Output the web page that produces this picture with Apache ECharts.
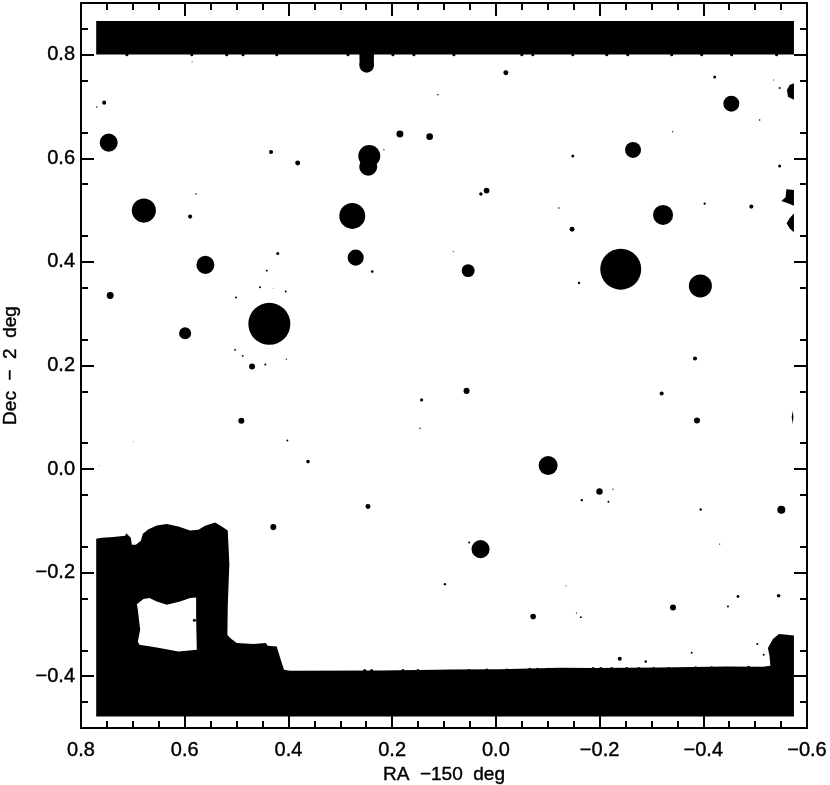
<!DOCTYPE html>
<html>
<head>
<meta charset="utf-8" />
<title>Mask map</title>
<script src="https://cdn.jsdelivr.net/npm/echarts@6/dist/echarts.min.js"></script>
<style>
html, body { margin: 0; padding: 0; background: #fff; }
#chart { width: 830px; height: 785px; }
</style>
</head>
<body>
<div id="chart"></div>
<script>
// tick values, degrees
const xTicks = [0.8, 0.6, 0.4, 0.2, 0, -0.2, -0.4, -0.6];
const yTicks = [0.8, 0.6, 0.4, 0.2, 0, -0.2, -0.4];

// the Dec readings below came out a hair high against the tick marks
const decReadingFix = -0.0015;

// masked regions, [RA, Dec] outlines
const topBar = [[0.7707, 0.8668], [-0.5748, 0.8668], [-0.5748, 0.802], [0.7707, 0.802]];
const topNeck = [[0.2632, 0.804], [0.235, 0.804], [0.2355, 0.781], [0.2627, 0.781]];
const bottomRegion = [
  [0.7707, -0.1332], [0.7597, -0.1313], [0.7374, -0.1299], [0.7148, -0.1274], [0.7129, -0.1222],
  [0.7039, -0.1313], [0.7019, -0.1448], [0.6942, -0.1448], [0.6846, -0.1371], [0.6807, -0.1236],
  [0.6699, -0.1145], [0.6538, -0.1075], [0.6345, -0.1048], [0.6121, -0.1095], [0.5896, -0.1172],
  [0.5736, -0.1158], [0.5607, -0.1081], [0.5414, -0.1017], [0.5285, -0.1095], [0.517, -0.1172],
  [0.5158, -0.1415], [0.5139, -0.1834], [0.515, -0.2091], [0.517, -0.2639], [0.5177, -0.3185],
  [0.5125, -0.3249], [0.4996, -0.3346], [0.4676, -0.3365], [0.4437, -0.3346], [0.4399, -0.3398],
  [0.4225, -0.3411], [0.4148, -0.3668], [0.4085, -0.3861], [0.3969, -0.388], [0.2235, -0.3874],
  [0.1118, -0.3861], [0.0887, -0.3855], [-0.0077, -0.3851], [-0.1233, -0.3822], [-0.1875, -0.3828],
  [-0.316, -0.3817], [-0.4445, -0.3797], [-0.515, -0.3803], [-0.5293, -0.3784], [-0.5279, -0.3604],
  [-0.5247, -0.3442], [-0.5343, -0.3268], [-0.5459, -0.3172], [-0.5748, -0.3199], [-0.5748, -0.4763],
  [0.7707, -0.4763]
];
const edgeUpper = [[-0.5748, 0.7465], [-0.5665, 0.7432], [-0.5613, 0.7336], [-0.5632, 0.7207], [-0.5748, 0.7149]];
const edgeMiddle = [[-0.5748, 0.5405], [-0.5601, 0.5419], [-0.5588, 0.5265], [-0.5505, 0.5193], [-0.5632, 0.5149], [-0.5748, 0.5102]];
const edgeLower = [[-0.5748, 0.4955], [-0.5665, 0.4859], [-0.5607, 0.4763], [-0.5665, 0.4666], [-0.5748, 0.4589]];
const edgeSliver = [[-0.5725, 0.114], [-0.5705, 0.102], [-0.5725, 0.088], [-0.5738, 0.102]];

// unmasked window inside the bottom region
const windowRegion = [
  [0.6923, -0.2593], [0.6796, -0.2496], [0.668, -0.2477], [0.6538, -0.2542], [0.6345, -0.2606],
  [0.6089, -0.2542], [0.5896, -0.2477], [0.578, -0.2465], [0.578, -0.2863], [0.5767, -0.3475],
  [0.6121, -0.3507], [0.6538, -0.343], [0.6873, -0.3378], [0.6904, -0.3314], [0.6859, -0.3089],
  [0.6904, -0.2703]
];

// star holes
const holeRa = [
  0.7466, 0.6788, 0.7553, 0.7694, 0.5896, 0.4335, 0.3821, 0.4206, 0.578, 0.5857,
  0.2491, -0.0193, 0.1118, 0.185, 0.1277, 0.2441, 0.2461, 0.2158, 0.2769, 0.2703,
  0.2383, 0.0179, 0.0289, -0.1214, 0.0823, 0.0534, -0.2408, -0.3944, -0.3224, -0.2645,
  -0.4541, -0.422, -0.5472, -0.5356, -0.5087, -0.341, -0.1484, -0.5472, -0.4027, -0.4927,
  -0.147, -0.1605, 0.5601, 0.7437, 0.5992, 0.4368, 0.4418, 0.4547, 0.4052, 0.4291,
  0.501, 0.5029, 0.4881, 0.4701, 0.4445, 0.404, 0.4908, 0.4021, 0.3622, 0.6988,
  0.7644, 0.0565, 0.1432, 0.1464, -0.1008, -0.1657, 0.2466, 0.0295, 0.0514, -0.384,
  -0.3198, -0.3879, -0.1998, -0.226, -0.2171, -0.395, -0.5505,
  -0.4316, 0.4291, 0.0983, -0.0719, -0.1349, -0.1555, -0.1638, -0.3416, -0.4669, -0.4476,
  -0.5453, -0.5042, -0.3776, -0.289, -0.2389, -0.5164, 0.5813
];
const holeDec = [
  0.6319, 0.5006, 0.7091, 0.7008, 0.489, 0.6139, 0.5927, 0.4176, 0.5328, 0.7876,
  0.7809, 0.767, 0.7245, 0.6486, 0.6434, 0.6062, 0.5855, 0.6183, 0.4903, 0.4098,
  0.3828, 0.5392, 0.5328, 0.5058, 0.4214, 0.3847, 0.3875, 0.3552, 0.4923, 0.6178,
  0.7071, 0.7587, 0.7375, 0.7529, 0.6757, 0.6531, 0.6062, 0.5869, 0.5141, 0.5083,
  0.4647, 0.361, 0.3958, 0.3365, 0.2639, 0.2819, 0.3847, 0.3527, 0.3442, 0.3508,
  0.3326, 0.2317, 0.2201, 0.1994, 0.2033, 0.2137, 0.0946, 0.0566, 0.016, 0.0541,
  0.0077, 0.1525, 0.1351, 0.0805, 0.0083, -0.0585, -0.0708, -0.1531, -0.1403, 0.2149,
  0.1473, 0.0952, -0.0419, -0.0373, -0.0618, -0.0766, -0.0772,
  -0.1434, -0.1106, -0.2207, -0.2832, -0.2239, -0.2766, -0.2844, -0.2658, -0.2446, -0.2639,
  -0.2432, -0.3365, -0.3533, -0.3701, -0.3649, -0.3571, -0.2905
];
const holeRadius = [
  0.0174, 0.0232, 0.0039, 0.0014, 0.0039, 0.0039, 0.0048, 0.0029, 0.0014, 0.001,
  0.0141, 0.0048, 0.0015, 0.0067, 0.0064, 0.0212, 0.0174, 0.0012, 0.025, 0.0155,
  0.0025, 0.0055, 0.0033, 0.0015, 0.001, 0.0125, 0.0395, 0.0222, 0.0193, 0.0154,
  0.0154, 0.0029, 0.0019, 0.001, 0.0015, 0.0012, 0.0029, 0.0029, 0.0023, 0.0039,
  0.0048, 0.0023, 0.0174, 0.0067, 0.0116, 0.0405, 0.0019, 0.0019, 0.0019, 0.0008,
  0.0019, 0.0019, 0.0019, 0.0058, 0.0019, 0.0012, 0.0058, 0.0019, 0.0035, 0.0008,
  0.0008, 0.0058, 0.0031, 0.0014, 0.0183, 0.0023, 0.0048, 0.0174, 0.0019, 0.0039,
  0.0039, 0.0058, 0.0062, 0.0012, 0.0019, 0.0023, 0.0077,
  0.0012, 0.0058, 0.0023, 0.0054, 0.001, 0.0012, 0.0019, 0.0058, 0.0027, 0.0019,
  0.0035, 0.0019, 0.0019, 0.0025, 0.0039, 0.0019, 0.0029
];

// little bumps along the straight mask edges
const topBumpRa = [
  0.7115, 0.5863, 0.5189, 0.4875, 0.4225, 0.2852, 0.1985, 0.158, 0.0809, -0.0501,
  -0.0713, -0.1484, -0.2139, -0.2543, -0.3391, -0.3969, -0.4547, -0.5414
];
const bottomBumpRa = [
  0.253, 0.2395, 0.1792, 0.1503, 0.052, 0.0173, -0.0212, -0.0655, -0.0804, -0.1021,
  -0.1875, -0.2023, -0.2235, -0.2523, -0.2755, -0.3044, -0.3333, -0.3854, -0.4162, -0.4875
];
const bottomBumpDec = [
  -0.3875, -0.3875, -0.3875, -0.3875, -0.3875, -0.3865, -0.3865, -0.385, -0.385, -0.385,
  -0.3838, -0.3838, -0.3838, -0.3838, -0.3838, -0.3838, -0.3838, -0.3825, -0.3825, -0.3815
];
const topBumpDec = 0.8015;
const bumpRadius = 0.003;

const maskRegions = [topBar, topNeck, bottomRegion, edgeUpper, edgeMiddle, edgeLower, edgeSliver];
const holes = holeRa.map((ra, i) => [ra, holeDec[i], holeRadius[i]])
  .concat(topBumpRa.map(ra => [ra, topBumpDec, bumpRadius]))
  .concat(bottomBumpRa.map((ra, i) => [ra, bottomBumpDec[i], bumpRadius]));

function tickLabel(val) {
  return val.toFixed(1).replace("-", "\u2212");
}

function drawRegion(regions, fill) {
  return function(params, api) {
    const pts = regions[api.value(0)].map(p => api.coord([p[0], p[1] + decReadingFix]));
    return { type: "polygon", shape: { points: pts }, style: { fill: fill } };
  };
}

function drawHole(params, api) {
  const c = api.coord([api.value(0), api.value(1) + decReadingFix]);
  const r = api.size([api.value(2), 0])[0];
  return { type: "circle", shape: { cx: c[0], cy: c[1], r: r }, style: { fill: "#000" } };
}

const fontName = "'Liberation Sans', Arial, sans-serif";
const axisLine = { show: true, onZero: false, lineStyle: { color: "#000", width: 2 } };
const axisTick = { show: true, inside: true, length: 13, lineStyle: { color: "#000", width: 2 } };
const minorTick = { show: true, splitNumber: 4, length: 7, lineStyle: { color: "#000", width: 2 } };
const labelFont = {
  color: "#000",
  fontFamily: fontName,
  fontSize: 20,
  textBorderColor: "#000",
  textBorderWidth: 0.4
};
const nameFont = {
  color: "#000",
  fontFamily: fontName,
  fontSize: 19,
  textBorderColor: "#000",
  textBorderWidth: 0.4
};

function xAxis(position, showLabel) {
  return {
    type: "value",
    position: position,
    inverse: true,
    min: -0.6,
    max: 0.8,
    interval: 0.2,
    name: showLabel ? "RA  \u2212150  deg" : "",
    nameLocation: "middle",
    nameGap: 35,
    nameTextStyle: nameFont,
    axisLine: axisLine,
    axisTick: Object.assign({ customValues: xTicks }, axisTick),
    minorTick: minorTick,
    splitLine: { show: false },
    axisLabel: Object.assign({
      show: showLabel,
      customValues: xTicks,
      margin: 12,
      hideOverlap: false,
      showMinLabel: true,
      showMaxLabel: true,
      formatter: tickLabel
    }, labelFont)
  };
}

function yAxis(position, showLabel) {
  return {
    type: "value",
    position: position,
    min: -0.5,
    max: 0.9,
    interval: 0.2,
    name: showLabel ? "Dec  \u2212  2  deg" : "",
    nameLocation: "middle",
    nameGap: 61,
    nameTextStyle: nameFont,
    axisLine: axisLine,
    axisTick: Object.assign({ customValues: yTicks }, axisTick),
    minorTick: minorTick,
    splitLine: { show: false },
    axisLabel: Object.assign({
      show: showLabel,
      customValues: yTicks,
      margin: 6,
      hideOverlap: false,
      formatter: tickLabel
    }, labelFont)
  };
}

const chart = echarts.init(document.getElementById("chart"), null, { renderer: "canvas" });
chart.setOption({
  animation: false,
  backgroundColor: "#fff",
  grid: { left: 81, right: 23, top: 3, bottom: 57, containLabel: false, outerBoundsMode: "none" },
  xAxis: [xAxis("bottom", true), xAxis("top", false)],
  yAxis: [yAxis("left", true), yAxis("right", false)],
  series: [
    {
      type: "custom",
      coordinateSystem: "cartesian2d",
      renderItem: drawRegion(maskRegions, "#000"),
      data: maskRegions.map((r, i) => [i]),
      encode: { x: -1, y: -1 },
      silent: true,
      z: 1
    },
    {
      type: "custom",
      coordinateSystem: "cartesian2d",
      renderItem: drawRegion([windowRegion], "#fff"),
      data: [[0]],
      encode: { x: -1, y: -1 },
      silent: true,
      z: 2
    },
    {
      type: "custom",
      coordinateSystem: "cartesian2d",
      renderItem: drawHole,
      data: holes,
      encode: { x: 0, y: 1 },
      silent: true,
      z: 3
    }
  ]
});
</script>
</body>
</html>
